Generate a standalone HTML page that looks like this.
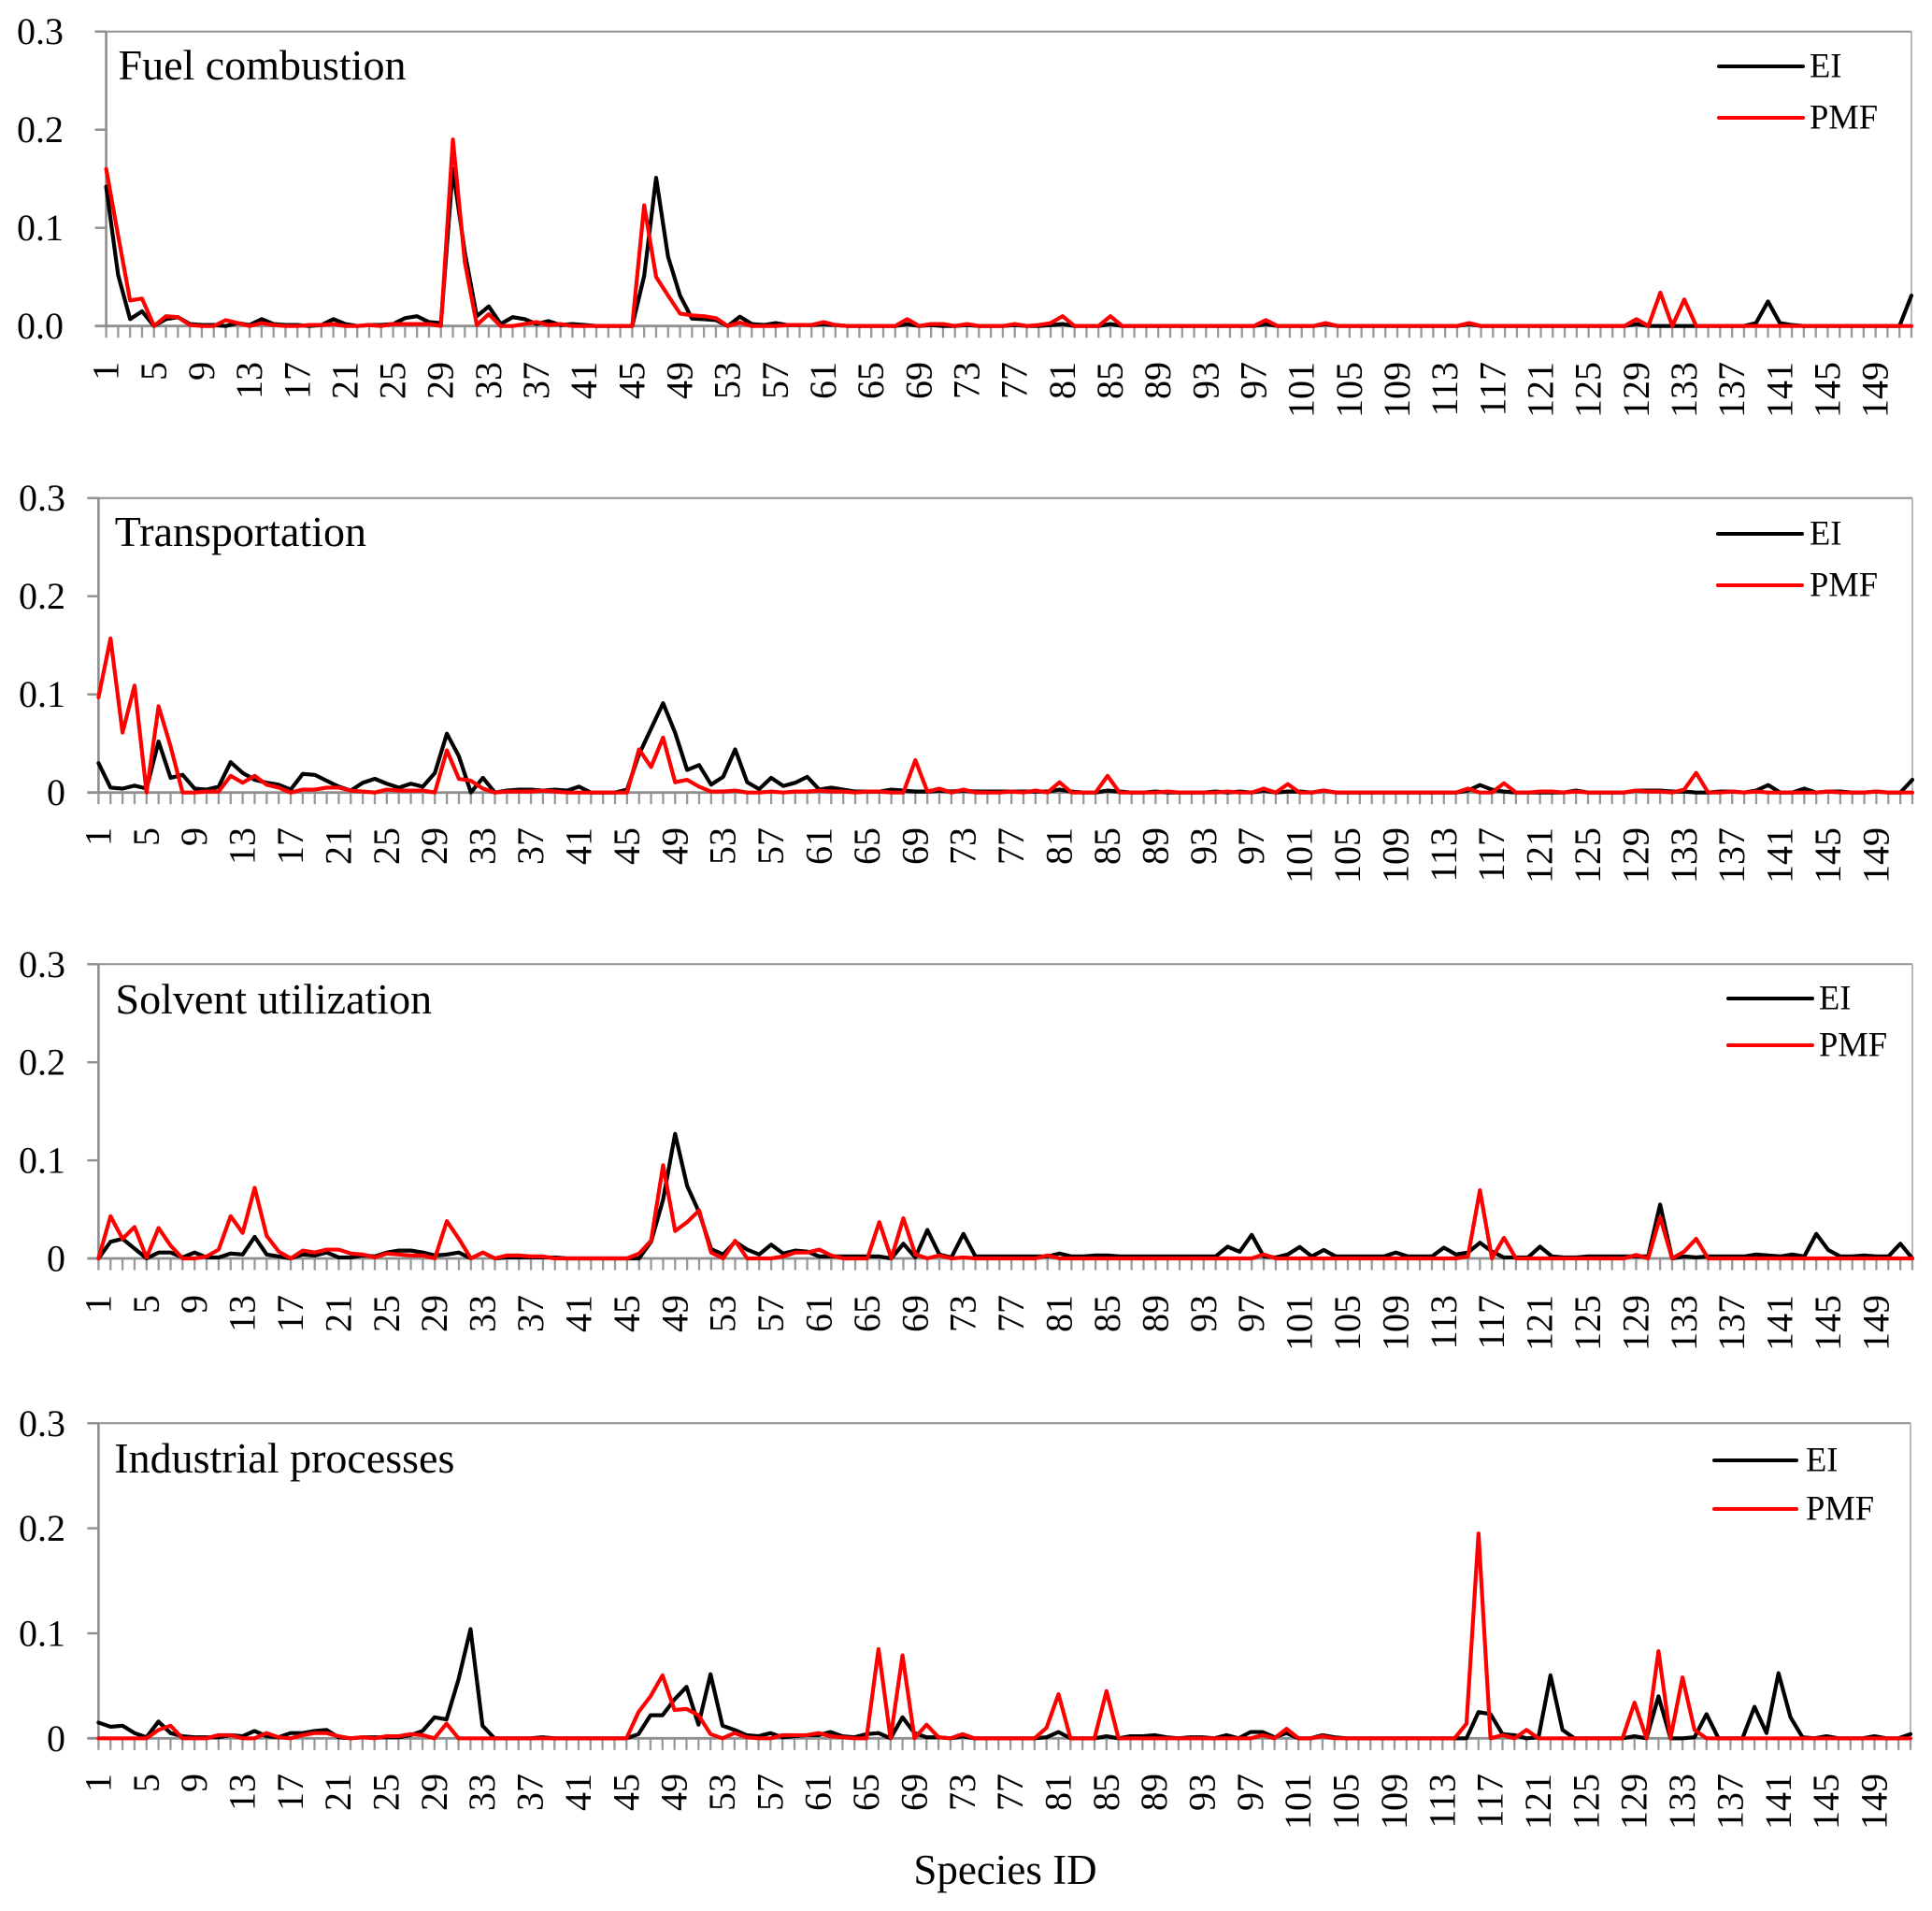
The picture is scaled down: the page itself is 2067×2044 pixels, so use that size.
<!DOCTYPE html>
<html lang="en">
<head>
<meta charset="utf-8">
<title>Species ID profiles: EI vs PMF</title>
<style>
html,body{margin:0;padding:0;background:#fff;}
#chart{display:block;width:2067px;height:2044px;font-family:"Liberation Serif",serif;fill:#000;}
</style>
</head>
<body>
<svg id="chart" xmlns="http://www.w3.org/2000/svg" width="2067" height="2044" viewBox="0 0 2067 2044"></svg>
<script>
const yTickValues = [0, 0.1, 0.2, 0.3];
const yTickLabelsFuel = ["0.0", "0.1", "0.2", "0.3"];
const yTickLabelsOther = ["0", "0.1", "0.2", "0.3"];
const xTickLabels = [1,5,9,13,17,21,25,29,33,37,41,45,49,53,57,61,65,69,73,77,81,85,89,93,97,101,105,109,113,117,121,125,129,133,137,141,145,149];
const speciesCount = 152;
const seriesNames = ["EI", "PMF"];
const panelTitles = ["Fuel combustion", "Transportation", "Solvent utilization", "Industrial processes"];

const fuelEI = [
.142,.052,.007,.015,0,.007,.009,.002,.001,.001,
0,.003,.001,.007,.002,.001,.001,0,.001,.007,
.002,0,.001,.001,.002,.008,.010,.004,.003,.16,
.075,.01,.02,.002,.009,.007,.002,.005,.001,.002,
.001,0,0,0,0,.051,.151,.0705,.031,.0076,
.007,.006,0,.0095,.002,.001,.003,.001,.001,.001,
.002,.001,0,0,0,0,0,.002,0,.001,
0,0,.001,0,0,0,.001,0,0,.001,
.002,0,0,0,.002,0,0,0,0,0,
0,0,0,0,0,0,0,.002,0,0,
0,0,.002,0,0,0,0,0,0,0,
0,0,0,0,.002,0,0,0,0,0,
0,0,0,0,0,0,0,0,.002,0,
0,0,0,0,0,0,0,0,.003,.025,
.003,.001,0,0,0,0,0,0,0,0,
0,.031];
const fuelPMF = [
.16,.092,.026,.028,0,.01,.009,.001,0,0,
.006,.003,0,.003,.001,0,0,.001,.001,.002,
0,0,.001,0,.002,.002,.002,.002,0,.19,
.065,.001,.012,0,0,.002,.004,.001,.002,0,
0,0,0,0,0,.123,.05,.031,.0127,.0108,
.01,.008,0,.0035,0,0,0,.001,.001,.001,
.004,.001,0,0,0,0,0,.007,0,.002,
.002,0,.002,0,0,0,.002,0,.001,.003,
.01,0,0,0,.01,0,0,0,0,0,
0,0,0,0,0,0,0,.006,0,0,
0,0,.003,0,0,0,0,0,0,0,
0,0,0,0,.003,0,0,0,0,0,
0,0,0,0,0,0,0,0,.007,0,
.034,0,.027,0,0,0,0,0,0,0,
0,0,0,0,0,0,0,0,0,0,
0,0];
const transportEI = [
.03,.005,.004,.007,.004,.052,.015,.018,.004,.003,
.006,.031,.02,.013,.01,.008,.003,.019,.018,.012,
.006,.002,.01,.014,.009,.005,.009,.006,.02,.06,
.037,0,.015,0,.002,.003,.003,.002,.003,.002,
.006,0,0,0,.003,.039,.065,.091,.061,.023,
.028,.008,.016,.044,.0105,.0035,.015,.0067,.01,.016,
.003,.005,.003,.001,.001,.001,.003,.002,.001,.001,
.002,.001,.002,.001,.001,.001,.001,.001,.001,.001,
.003,.001,0,0,.002,.001,0,0,.001,0,
0,0,0,.001,0,.001,0,.002,0,.001,
.001,0,.002,0,0,0,0,0,0,0,
0,0,0,0,.002,.0076,.003,.001,0,0,
0,0,0,.002,0,0,0,0,.002,.002,
.002,.001,.001,0,0,.001,.001,0,.002,.0076,
0,0,.004,0,.001,.001,0,0,.001,0,
0,.013];
const transportPMF = [
.097,.157,.061,.109,0,.088,.047,0,0,.001,
.001,.017,.01,.017,.008,.005,0,.003,.003,.005,
.005,.002,.001,0,.003,.002,.002,.002,0,.043,
.014,.012,.004,0,.001,.001,.001,.002,.001,0,
0,0,0,0,0,.044,.026,.056,.0105,.013,
.006,.001,.001,.002,0,0,.001,0,.001,.001,
.002,.001,.001,0,.001,.001,0,0,.033,.001,
.004,0,.003,0,0,0,.001,0,.002,0,
.0105,0,0,0,.017,0,0,0,0,.001,
0,0,0,0,.001,0,0,.004,0,.0086,
0,0,.002,0,0,0,0,0,0,0,
0,0,0,0,.004,0,0,.0095,0,0,
.001,.001,0,.001,0,0,0,0,.002,.001,
.001,0,.003,.02,0,0,.001,0,.001,0,
0,0,0,0,.001,0,0,0,.001,0,
0,0];
const solventEI = [
0,.017,.02,.01,0,.006,.006,.001,.006,.001,
.001,.005,.004,.022,.004,.002,0,.004,.003,.006,
.001,.001,.003,.002,.006,.008,.008,.006,.003,.004,
.006,0,.006,0,.001,.001,.001,.001,.001,0,
0,0,0,0,0,0,.017,.06,.127,.074,
.047,.0095,.004,.017,.009,.004,.014,.005,.008,.007,
.002,.002,.002,.002,.002,.002,0,.015,.001,.029,
.004,.001,.025,.002,.002,.002,.002,.002,.002,.002,
.005,.002,.002,.003,.003,.002,.002,.002,.002,.002,
.002,.002,.002,.002,.012,.0067,.024,.002,.001,.004,
.0117,.002,.0086,.002,.002,.002,.002,.002,.006,.002,
.002,.002,.011,.004,.006,.016,.007,.001,.001,.001,
.012,.002,.001,.001,.002,.002,.002,.002,.002,.002,
.055,0,.002,.001,.002,.002,.002,.002,.004,.003,
.002,.004,.002,.025,.0086,.002,.002,.003,.002,.002,
.015,0];
const solventPMF = [
0,.043,.02,.032,.001,.031,.013,0,0,.002,
.009,.043,.026,.072,.023,.007,0,.008,.006,.009,
.009,.005,.004,.001,.005,.004,.003,.003,0,.038,
.02,0,.006,0,.003,.003,.002,.002,0,0,
0,0,0,0,0,.005,.018,.095,.028,.037,
.049,.006,0,.018,0,0,0,.002,.006,.006,
.009,.003,0,0,0,.037,0,.041,.004,0,
.003,0,.001,0,0,0,0,0,0,.003,
0,0,0,0,0,0,0,0,0,0,
0,0,0,0,0,0,0,.004,0,0,
0,0,0,0,0,0,0,0,0,0,
0,0,0,0,.002,.0695,0,.021,0,0,
0,0,0,0,0,0,0,0,.0035,0,
.042,0,.007,.02,0,0,0,0,0,0,
0,0,0,0,0,0,0,0,0,0,
0,0];
const industrialEI = [
.015,.011,.012,.005,.001,.016,.005,.002,.001,.001,
.001,.003,.002,.007,.002,.001,.005,.005,.007,.008,
.001,0,.001,.001,.001,.001,.003,.007,.02,.018,
.056,.104,.012,0,0,0,0,.001,0,0,
0,0,0,0,0,.004,.022,.022,.037,.049,
.013,.061,.012,.008,.003,.002,.005,.001,.002,.003,
.003,.006,.002,.001,.004,.005,0,.02,.005,.001,
.001,0,.002,0,0,0,0,0,0,.001,
.006,0,0,0,.002,0,.002,.002,.003,.001,
0,.001,.001,0,.003,0,.006,.006,.001,.005,
0,0,.003,.001,0,0,0,0,0,0,
0,0,0,0,0,.025,.023,.004,.003,0,
.001,.06,.008,0,0,0,0,0,.002,0,
.04,0,0,.001,.023,0,0,0,.03,.005,
.062,.02,.001,0,.002,0,0,0,.002,0,
0,.004];
const industrialPMF = [
0,0,0,0,0,.008,.012,0,0,0,
.003,.003,0,0,.005,.001,0,.003,.005,.005,
.002,0,.001,0,.002,.002,.004,.003,0,.014,
0,0,0,0,0,0,0,0,0,0,
0,0,0,0,0,.025,.04,.06,.027,.028,
.022,.004,0,.005,.001,0,0,.003,.003,.003,
.005,.002,.001,0,0,.085,0,.079,0,.013,
.001,0,.004,0,0,0,0,0,0,.01,
.042,0,0,0,.045,0,0,0,0,0,
0,0,0,0,0,0,0,.003,0,.009,
0,0,.002,0,0,0,0,0,0,0,
0,0,0,0,.014,.195,0,.003,0,.008,
0,0,0,0,0,0,0,0,.034,0,
.083,0,.058,.008,0,0,0,0,0,0,
0,0,0,0,0,0,0,0,0,0,
0,0];

const eiSeries = [fuelEI, transportEI, solventEI, industrialEI];
const pmfSeries = [fuelPMF, transportPMF, solventPMF, industrialPMF];
const yLabelSets = [yTickLabelsFuel, yTickLabelsOther, yTickLabelsOther, yTickLabelsOther];

const layouts = [
  {left:113.6,right:2045,top:33.7,zero:348.7,labelEnd:387,yLabelX:68,titleX:126.5,titleY:85,legX:1839,legEnd:1929,legTextX:1936,legY1:71,legY2:126},
  {left:105.4,right:2046,top:532.7,zero:847.7,labelEnd:885,yLabelX:70,titleX:122.8,titleY:584,legX:1838,legEnd:1928,legTextX:1936,legY1:571,legY2:626},
  {left:105.4,right:2046,top:1031.3,zero:1346,labelEnd:1385,yLabelX:70,titleX:123.5,titleY:1084,legX:1849,legEnd:1939,legTextX:1946,legY1:1068,legY2:1118},
  {left:105.4,right:2044,top:1522.3,zero:1859.3,labelEnd:1897,yLabelX:70,titleX:122.3,titleY:1575,legX:1834,legEnd:1922,legTextX:1932,legY1:1562,legY2:1614}
];

const NS = "http://www.w3.org/2000/svg";
const svg = document.getElementById("chart");
const AXIS = "#8f8f8f";

function mk(tag, attrs, parent, text) {
  const el = document.createElementNS(NS, tag);
  for (const k in attrs) el.setAttribute(k, attrs[k]);
  if (text !== undefined) el.textContent = text;
  parent.appendChild(el);
  return el;
}

function drawPanel(p) {
  const L = layouts[p];
  const xScale = function (id) { return L.left + (id - 1) * (L.right - L.left) / (speciesCount - 1); };
  const yScale = function (v) { return L.zero - (v / 0.3) * (L.zero - L.top); };

  const g = mk("g", {}, svg);
  
  

  // frame: top and right lines
  const topLine = mk("line", {x1:L.left-12, x2:L.right, y1:L.top, y2:L.top, stroke:AXIS, "stroke-width":2}, g);
  
  
  const rightLine = mk("line", {x1:L.right, x2:L.right, y1:L.top, y2:L.zero, stroke:"#a8a8a8", "stroke-width":1.6}, g);
  
  

  // y axis
  const yAxis = mk("line", {x1:L.left, x2:L.left, y1:L.top, y2:L.zero, stroke:AXIS, "stroke-width":2.6}, g);
  
  
  yTickValues.forEach(function (v, i) {
    const y = yScale(v);
    const tick = mk("line", {x1:L.left-12, x2:L.left, y1:y, y2:y, stroke:AXIS, "stroke-width":2.4}, g);
    
    
    const label = mk("text", {x:L.yLabelX, y:y+13.5, "text-anchor":"end", "font-size":40}, g, yLabelSets[p][i]);
    
    
  });

  // x ticks
  for (let id = 1; id <= speciesCount; id++) {
    const tick = mk("line", {x1:xScale(id), x2:xScale(id), y1:L.zero, y2:L.zero+12.5, stroke:"#999", "stroke-width":2.3}, g);
    
    
  }
  const xAxis = mk("line", {x1:L.left-12, x2:L.right, y1:L.zero, y2:L.zero, stroke:AXIS, "stroke-width":2.8}, g);
  
  

  xTickLabels.forEach(function (id) {
    const x = xScale(id) + 13;
    const label = mk("text", {x:x, y:L.labelEnd, "text-anchor":"end", "font-size":40, transform:"rotate(-90 " + x + " " + L.labelEnd + ")"}, g, String(id));
    
    
  });

  // series
  const toPoints = function (vals) {
    return vals.map(function (v, i) { return xScale(i + 1).toFixed(2) + "," + yScale(v).toFixed(2); }).join(" ");
  };
  const eiLine = mk("polyline", {points:toPoints(eiSeries[p]), fill:"none", stroke:"#000", "stroke-width":4.2, "stroke-linejoin":"round", "stroke-linecap":"round"}, g);
  
  
  const pmfLine = mk("polyline", {points:toPoints(pmfSeries[p]), fill:"none", stroke:"#f00", "stroke-width":4.2, "stroke-linejoin":"round", "stroke-linecap":"round"}, g);
  
  

  // title
  const title = mk("text", {x:L.titleX, y:L.titleY, "font-size":46}, g, panelTitles[p]);
  
  

  // legend
  const legEI = mk("line", {x1:L.legX, x2:L.legEnd, y1:L.legY1, y2:L.legY1, stroke:"#000", "stroke-width":4, "stroke-linecap":"round"}, g);
  
  
  const legEIText = mk("text", {x:L.legTextX, y:L.legY1+11.5, "font-size":36.5}, g, seriesNames[0]);
  
  
  const legPMF = mk("line", {x1:L.legX, x2:L.legEnd, y1:L.legY2, y2:L.legY2, stroke:"#f00", "stroke-width":4, "stroke-linecap":"round"}, g);
  
  
  const legPMFText = mk("text", {x:L.legTextX, y:L.legY2+11.5, "font-size":36.5}, g, seriesNames[1]);
  
  
}

for (let p = 0; p < panelTitles.length; p++) drawPanel(p);

const xTitle = mk("text", {x:1075.5, y:2015, "text-anchor":"middle", "font-size":45}, svg, "Species ID");


</script>
</body>
</html>
